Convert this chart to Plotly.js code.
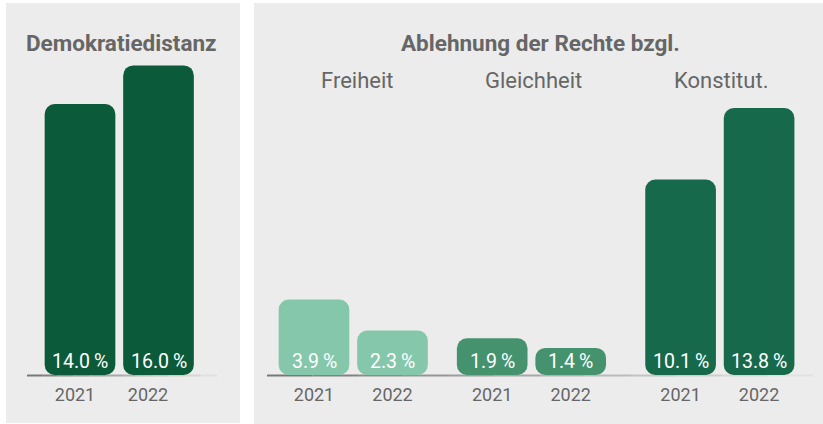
<!DOCTYPE html>
<html>
<head>
<meta charset="utf-8">
<script src="https://cdn.plot.ly/plotly-3.0.1.min.js"></script>
<style>html,body{margin:0;padding:0;background:#fff;}#chart{width:823px;height:424px;}</style>
</head>
<body>
<div id="chart"></div>
<script>
// ---- data ----
const years = ['2021', '2022'];
const demoTitle = 'Demokratiedistanz';
const demoValues = [14.0, 16.0];
const rightTitle = 'Ablehnung der Rechte bzgl.';
const groupNames = ['Freiheit', 'Gleichheit', 'Konstitut.'];
const freiheitValues = [3.9, 2.3];
const gleichheitValues = [1.9, 1.4];
const konstitutValues = [10.1, 13.8];

// ---- style ----
const W = 823, H = 424, BASE_PX = 375, PX_PER_UNIT = 19.35;
const FONT = 'Roboto, "DejaVu Sans", sans-serif';
const GREY = '#666666';
const PANEL = '#ececec';
const colDemo = '#0b5a39';
const groupColors = ['#84c7aa', '#45926e', '#166a4b'];
const SLOT = 78.5;             // px per x unit
const BAR_W = 0.9;             // in x units
const S = 12 / PX_PER_UNIT;    // split height (12 px) so both bar ends can be rounded
const R = 10;

const px2x = px => px / W;
const px2y = py => (BASE_PX - py) / BASE_PX;

function bars(xs, vals, color, xa) {
  const common = {type: 'bar', width: BAR_W, xaxis: xa, yaxis: 'y', hoverinfo: 'skip', showlegend: false,
    marker: {color: color, cornerradius: R, line: {width: 0}}};
  return [
    Object.assign({x: xs, y: vals.map(v => v - S)}, common),      // upper part, rounded top
    Object.assign({x: xs, y: vals.map(() => -S)}, common)          // lower part, rounded bottom
  ];
}

const fmt = v => v.toFixed(1) + '\u2009%';

const leftX = years.map((_, i) => i);
const leftTickShift = [-5 / SLOT, -10.5 / SLOT];
const groupStart = [0, 2.27, 4.67];
const rightSeries = [freiheitValues, gleichheitValues, konstitutValues];
const rightX = groupStart.map(g => years.map((_, i) => g + i));

let traces = [];
traces = traces.concat(bars(leftX, demoValues, colDemo, 'x'));
rightSeries.forEach((vals, g) => { traces = traces.concat(bars(rightX[g], vals, groupColors[g], 'x2')); });

const annotations = [];
function valLabels(xs, vals, xa) {
  xs.forEach((x, i) => annotations.push({
    xref: xa, yref: 'y', x: x, y: -S, xanchor: 'center', yanchor: 'bottom', yshift: 0,
    text: fmt(vals[i]), showarrow: false,
    font: {family: FONT, size: 19.5, color: '#ffffff'}
  }));
}
valLabels(leftX, demoValues, 'x');
rightSeries.forEach((vals, g) => valLabels(rightX[g], vals, 'x2'));

function label(text, xpx, ypx, size) {
  annotations.push({xref: 'paper', yref: 'paper', x: px2x(xpx), y: px2y(ypx), xanchor: 'center', yanchor: 'middle',
    text: text, showarrow: false, font: {family: FONT, size: size, color: GREY}});
}
label('<b>' + demoTitle + '</b>', 121, 43, 22.5);
label('<b>' + rightTitle + '</b>', 540, 43, 22.5);
const groupLabelPx = [357, 533, 721];
groupNames.forEach((n, g) => label(n, groupLabelPx[g], 81, 22));

const shapes = [
  {type: 'rect', xref: 'paper', yref: 'paper', x0: px2x(6), x1: px2x(240), y0: px2y(423), y1: px2y(3),
   fillcolor: PANEL, line: {width: 0}, layer: 'below'},
  {type: 'rect', xref: 'paper', yref: 'paper', x0: px2x(254), x1: px2x(823), y0: px2y(424), y1: px2y(3),
   fillcolor: PANEL, line: {width: 0}, layer: 'below'}
];
function baseline(x0, x1) {
  const n = 12;
  for (let k = 0; k < n; k++) {
    const a = x0 + (x1 - x0) * k / n, b = x0 + (x1 - x0) * (k + 1) / n;
    const c = Math.round(120 + (225 - 120) * k / (n - 1));
    shapes.push({type: 'line', xref: 'paper', yref: 'paper', x0: px2x(a), x1: px2x(b),
      y0: px2y(375.5), y1: px2y(375.5), line: {color: `rgb(${c},${c},${c})`, width: 2}, layer: 'below'});
  }
}
baseline(27, 217);
baseline(267, 813);

const axBase = {showgrid: false, zeroline: false, showline: false, ticks: '', fixedrange: true,
  ticklabelstandoff: 7, tickfont: {family: FONT, size: 18, color: GREY}, anchor: 'y'};

const rightTicks = rightX.flat();
const layout = {
  width: W, height: H,
  margin: {l: 0, r: 0, t: 0, b: H - BASE_PX, pad: 0},
  paper_bgcolor: '#ffffff', plot_bgcolor: 'rgba(0,0,0,0)',
  barmode: 'overlay', showlegend: false,
  xaxis: Object.assign({}, axBase, {domain: [px2x(27), px2x(217)], range: [(27 - 80) / SLOT, (217 - 80) / SLOT],
    tickvals: leftX.map((x, i) => x + leftTickShift[i]), ticktext: years}),
  xaxis2: Object.assign({}, axBase, {domain: [px2x(267), px2x(813)], range: [(267 - 314) / SLOT, (813 - 314) / SLOT],
    tickvals: rightTicks, ticktext: rightTicks.map((_, i) => years[i % years.length])}),
  yaxis: {range: [-S, BASE_PX / PX_PER_UNIT - S], visible: false, fixedrange: true},
  shapes: shapes, annotations: annotations
};

Plotly.newPlot('chart', traces, layout, {displayModeBar: false, staticPlot: true});
</script>
</body>
</html>
